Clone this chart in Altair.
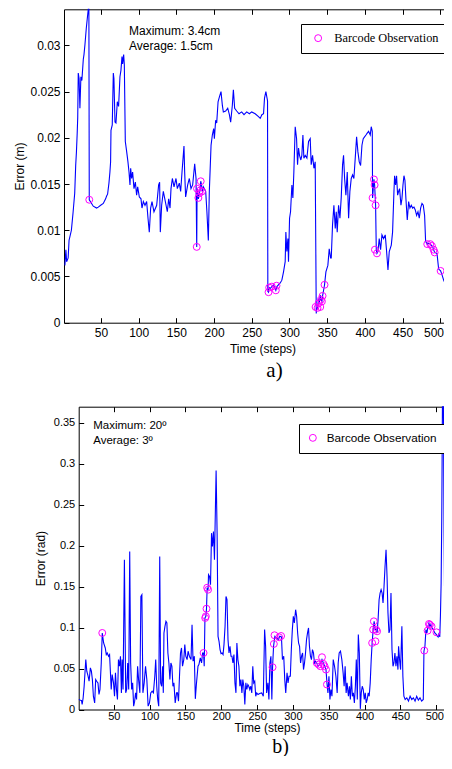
import altair as alt
import pandas as pd

SANS = "Liberation Sans"
SERIF = "Liberation Serif"
W, H = 436, 748

# ---------------- data: panel a (position error, m) ----------------
a_time = [
    2.2, 3.5, 4.5, 5.5, 6.5, 7.7, 10.8, 13.0, 15.2, 16.5,
    17.5, 18.5, 19.2, 19.9, 21.0, 22.1, 23.4, 24.7, 26.6, 27.5,
    28.8, 30.5, 32.0, 33.2, 34.0, 34.5, 37.6, 39.8, 44.2, 46.5,
    49.6, 53.1, 56.2, 57.5, 58.8, 60.6, 61.9, 62.8, 63.3, 65.0,
    66.4, 67.2, 68.6, 69.9, 71.7, 73.4, 75.2, 76.5, 77.9, 78.7,
    80.1, 81.0, 82.3, 84.1, 85.8, 87.2, 88.5, 89.4, 90.7, 92.0,
    93.8, 95.6, 97.3, 98.7, 100.9, 103.1, 104.4, 106.2, 108.4, 110.6,
    112.4, 114.1, 115.9, 117.7, 120.3, 123.9, 126.5, 127.8, 128.7, 130.5,
    132.7, 135.4, 138.0, 139.8, 141.6, 142.9, 144.7, 146.9, 149.5, 151.3,
    153.9, 155.7, 157.5, 160.1, 161.0, 162.3, 165.0, 167.2, 169.4, 171.6,
    174.3, 176.1, 177.0, 177.5, 178.5, 179.2, 180.5, 181.4, 182.3, 183.2,
    184.5, 185.8, 188.9, 190.5, 192.4, 193.7, 196.0, 197.7, 199.5, 200.4,
    202.1, 203.5, 205.3, 207.0, 209.2, 211.0, 212.3, 215.4, 218.1, 220.3,
    222.0, 224.2, 225.6, 227.3, 230.0, 233.1, 236.6, 239.7, 243.3, 246.8,
    249.9, 254.5, 258.9, 261.2, 263.4, 265.6, 266.9, 268.7, 270.0, 270.9,
    271.3, 272.2, 273.1, 274.4, 276.6, 278.8, 281.9, 283.3, 287.7, 289.9,
    292.1, 294.3, 295.2, 296.5, 297.9, 298.7, 300.1, 301.4, 303.2, 304.5,
    305.8, 307.6, 309.4, 310.7, 312.0, 313.3, 315.1, 316.4, 317.8, 319.1,
    320.9, 323.1, 325.3, 327.5, 328.8, 330.6, 332.4, 334.1, 335.5, 336.0,
    337.2, 338.6, 339.5, 340.8, 341.7, 343.0, 343.9, 345.0, 346.5, 348.3,
    350.9, 352.7, 354.5, 355.4, 357.1, 358.9, 360.7, 362.0, 363.3, 365.1,
    366.9, 368.6, 370.4, 371.7, 373.1, 374.8, 376.6, 378.4, 380.1, 381.9,
    383.7, 385.4, 387.2, 389.0, 390.7, 392.5, 394.3, 396.1, 397.8, 399.6,
    401.4, 403.1, 404.9, 407.1, 408.4, 409.8, 410.2, 412.0, 412.9, 414.2,
    415.1, 416.0, 417.3, 419.0, 420.8, 422.6, 424.8, 427.0, 428.8, 430.6,
    432.3, 435.0, 436.7, 438.5, 439.4, 440.7, 442.0, 443.4, 444.7, 446.0,
    447.8, 449.1, 450.5, 451.8, 453.1, 454.4, 456.2, 458.0, 459.7, 461.5,
    463.3, 465.1, 466.8, 468.6, 470.4, 472.1, 473.9, 475.7, 477.4, 479.2,
    480.5, 482.7, 484.5, 486.7, 488.9, 490.0, 491.1, 492.5, 495.6, 497.8,
    500.4, 502.2, 504.4, 506.6, 508.8, 511.0, 513.3, 515.5,
]
a_err = [
    0.0062, 0.0079, 0.0066, 0.0068, 0.0070, 0.0089, 0.0100, 0.0119, 0.0140, 0.0170,
    0.0185, 0.0205, 0.0222, 0.0270, 0.0264, 0.0232, 0.0266, 0.0262, 0.0285, 0.0290,
    0.0301, 0.0318, 0.0330, 0.0340, 0.0345, 0.0133, 0.0129, 0.0126, 0.0124, 0.0125,
    0.0127, 0.0129, 0.0134, 0.0137, 0.0139, 0.0151, 0.0163, 0.0174, 0.0208, 0.0214,
    0.0270, 0.0264, 0.0217, 0.0216, 0.0239, 0.0234, 0.0266, 0.0273, 0.0288, 0.0280,
    0.0290, 0.0279, 0.0196, 0.0185, 0.0174, 0.0163, 0.0149, 0.0167, 0.0156, 0.0163,
    0.0145, 0.0152, 0.0138, 0.0147, 0.0136, 0.0134, 0.0124, 0.0131, 0.0127, 0.0131,
    0.0113, 0.0098, 0.0124, 0.0131, 0.0120, 0.0127, 0.0149, 0.0152, 0.0098, 0.0127,
    0.0142, 0.0131, 0.0120, 0.0134, 0.0124, 0.0145, 0.0156, 0.0147, 0.0156, 0.0145,
    0.0151, 0.0142, 0.0163, 0.0191, 0.0163, 0.0136, 0.0149, 0.0156, 0.0145, 0.0149,
    0.0172, 0.0156, 0.0082, 0.0145, 0.0138, 0.0134, 0.0140, 0.0143, 0.0153, 0.0150,
    0.0142, 0.0147, 0.0142, 0.0120, 0.0089, 0.0142, 0.0192, 0.0203, 0.0210, 0.0199,
    0.0219, 0.0216, 0.0239, 0.0244, 0.0250, 0.0235, 0.0228, 0.0229, 0.0232, 0.0225,
    0.0217, 0.0235, 0.0252, 0.0232, 0.0229, 0.0226, 0.0228, 0.0225, 0.0228, 0.0226,
    0.0228, 0.0226, 0.0223, 0.0221, 0.0225, 0.0226, 0.0243, 0.0250, 0.0244, 0.0240,
    0.0034, 0.0033, 0.0038, 0.0037, 0.0039, 0.0041, 0.0035, 0.0039, 0.0043, 0.0046,
    0.0055, 0.0066, 0.0098, 0.0077, 0.0091, 0.0066, 0.0113, 0.0120, 0.0149, 0.0135,
    0.0163, 0.0212, 0.0199, 0.0171, 0.0189, 0.0181, 0.0176, 0.0181, 0.0203, 0.0178,
    0.0181, 0.0178, 0.0196, 0.0199, 0.0171, 0.0181, 0.0167, 0.0174, 0.0010, 0.0017,
    0.0016, 0.0026, 0.0021, 0.0030, 0.0025, 0.0023, 0.0029, 0.0034, 0.0041, 0.0055,
    0.0062, 0.0080, 0.0070, 0.0070, 0.0106, 0.0127, 0.0102, 0.0120, 0.0098, 0.0127,
    0.0113, 0.0135, 0.0171, 0.0181, 0.0156, 0.0138, 0.0163, 0.0113, 0.0142, 0.0156,
    0.0160, 0.0156, 0.0178, 0.0201, 0.0185, 0.0174, 0.0170, 0.0192, 0.0199, 0.0201,
    0.0203, 0.0205, 0.0207, 0.0203, 0.0212, 0.0207, 0.0135, 0.0155, 0.0149, 0.0127,
    0.0079, 0.0075, 0.0077, 0.0091, 0.0079, 0.0095, 0.0091, 0.0095, 0.0077, 0.0057,
    0.0077, 0.0084, 0.0098, 0.0141, 0.0159, 0.0149, 0.0159, 0.0138, 0.0142, 0.0145,
    0.0127, 0.0134, 0.0149, 0.0159, 0.0154, 0.0134, 0.0111, 0.0131, 0.0124, 0.0127,
    0.0124, 0.0125, 0.0122, 0.0116, 0.0120, 0.0113, 0.0124, 0.0129, 0.0127, 0.0116,
    0.0088, 0.0085, 0.0086, 0.0085, 0.0083, 0.0082, 0.0079, 0.0076, 0.0075, 0.0058,
    0.0056, 0.0052, 0.0046, 0.0042, 0.0039, 0.0046, 0.0048, 0.0043,
]
a_obs_time = [34.5, 177.0, 177.4, 179.2, 180.5, 181.4, 182.3, 184.0,
              272.2, 273.1, 276.6, 281.9, 282.8,
              334.6, 337.2, 338.6, 340.8, 341.7, 343.0, 343.9, 346.5,
              410.2, 412.0, 412.9, 414.2, 413.3, 416.0,
              482.7, 486.7, 488.9, 491.1, 492.5, 500.4]
a_obs_err = [0.0133, 0.0082, 0.0145, 0.0135, 0.0140, 0.0143, 0.0153, 0.0142,
             0.0033, 0.0038, 0.0039, 0.0035, 0.0040,
             0.0017, 0.0016, 0.0021, 0.0017, 0.0025, 0.0023, 0.0029, 0.0041,
             0.0135, 0.0155, 0.0149, 0.0127, 0.0079, 0.0075,
             0.0085, 0.0085, 0.0083, 0.0079, 0.0076, 0.0056]

# ---------------- data: panel b (angular error, rad) ----------------
b_time = [
    1.2, 3.5, 4.9, 5.8, 7.2, 8.6, 10.9, 12.3, 14.1, 15.5,
    17.3, 18.7, 20.1, 21.5, 23.3, 24.7, 26.1, 27.9, 29.3, 30.7,
    32.5, 33.9, 35.8, 38.1, 39.5, 40.8, 42.7, 44.1, 46.4, 47.7,
    49.6, 51.0, 52.3, 53.7, 55.1, 56.5, 57.9, 59.3, 60.6, 61.6,
    62.9, 64.8, 66.6, 68.0, 69.4, 70.8, 72.2, 73.5, 74.9, 76.3,
    77.7, 79.1, 80.4, 81.8, 83.2, 84.6, 86.4, 87.8, 89.2, 90.6,
    92.4, 94.3, 96.1, 97.9, 99.8, 101.6, 103.5, 105.3, 107.2, 108.5,
    109.9, 111.3, 112.7, 114.1, 115.4, 116.8, 118.2, 119.1, 120.0, 121.4,
    122.8, 124.1, 125.5, 126.9, 128.3, 129.7, 131.1, 132.5, 133.9, 135.7,
    137.6, 138.9, 140.3, 141.7, 143.1, 144.5, 145.9, 147.7, 149.1, 150.5,
    152.3, 153.7, 155.5, 157.8, 159.2, 160.6, 162.4, 163.8, 165.2, 167.5,
    168.8, 170.7, 172.5, 173.9, 175.3, 176.2, 177.2, 178.5, 179.4, 180.3,
    181.6, 182.2, 183.6, 185.0, 186.4, 187.7, 189.1, 190.5, 192.8, 194.2,
    195.5, 196.9, 198.3, 199.7, 201.1, 202.5, 203.8, 205.3, 206.6, 208.0,
    209.4, 210.8, 212.2, 213.6, 214.9, 216.3, 217.7, 219.1, 220.5, 221.8,
    223.2, 224.6, 226.0, 227.4, 228.8, 230.1, 231.5, 232.9, 234.3, 235.7,
    237.1, 238.4, 239.8, 241.2, 242.6, 244.0, 245.3, 246.7, 248.1, 249.5,
    251.3, 253.6, 256.4, 258.7, 260.5, 261.9, 263.3, 265.1, 266.5, 267.9,
    269.3, 270.6, 271.6, 273.0, 274.8, 277.1, 279.4, 281.7, 284.0, 285.4,
    287.2, 288.6, 290.0, 291.8, 293.2, 294.6, 296.4, 297.8, 299.2, 300.6,
    302.0, 303.8, 305.2, 306.6, 307.9, 309.3, 310.7, 312.1, 313.5, 314.8,
    316.2, 317.6, 319.0, 320.4, 321.8, 323.1, 324.5, 325.9, 327.3, 328.7,
    330.1, 331.4, 333.3, 335.1, 337.0, 338.8, 340.6, 342.5, 344.3, 346.2,
    347.5, 348.9, 350.3, 351.7, 353.1, 354.5, 356.3, 358.1, 360.0, 361.8,
    363.2, 364.6, 366.4, 368.3, 370.1, 371.5, 372.9, 374.3, 375.6, 377.5,
    378.9, 380.2, 381.6, 383.0, 384.4, 385.8, 387.2, 388.5, 389.9, 391.3,
    392.7, 394.1, 395.4, 396.8, 398.2, 399.6, 401.0, 402.3, 403.7, 405.1,
    406.5, 407.9, 409.3, 410.6, 412.0, 413.4, 414.8, 416.2, 417.5, 418.9,
    420.3, 421.7, 423.1, 424.5, 425.8, 427.2, 428.6, 430.0, 431.4, 432.7,
    434.1, 435.5, 436.9, 438.3, 439.7, 441.0, 442.4, 443.8, 445.2, 446.6,
    447.5, 448.9, 450.3, 452.1, 453.5, 454.9, 456.7, 459.0, 461.3, 463.6,
    465.9, 468.2, 470.5, 472.8, 475.1, 477.4, 479.7, 482.0, 482.9, 484.3,
    485.7, 487.1, 488.5, 489.9, 491.2, 492.6, 494.0, 495.8, 498.1, 500.4,
    502.7, 504.1, 505.0, 505.9, 506.9, 507.8, 508.7, 510.1, 511.0, 512.4,
    513.8, 515.2, 516.6,
]
b_err = [
    0.0122, 0.0114, 0.0110, 0.0061, 0.0142, 0.0284, 0.0609, 0.0467, 0.0406, 0.0345,
    0.0508, 0.0467, 0.0365, 0.0162, 0.0081, 0.0365, 0.0345, 0.0325, 0.0183, 0.0244,
    0.0568, 0.0934, 0.0812, 0.0751, 0.0670, 0.0690, 0.0650, 0.0670, 0.0244, 0.0426,
    0.0325, 0.0162, 0.0447, 0.0244, 0.0122, 0.0609, 0.0528, 0.0650, 0.0203, 0.0609,
    0.0244, 0.1827, 0.0203, 0.0244, 0.0568, 0.0244, 0.1929, 0.0568, 0.0244, 0.0325,
    0.0041, 0.0102, 0.0203, 0.0122, 0.0528, 0.0365, 0.0203, 0.1380, 0.1401, 0.0203,
    0.0325, 0.0528, 0.0365, 0.0041, 0.0081, 0.0203, 0.0223, 0.0203, 0.0406, 0.0609,
    0.0284, 0.0122, 0.0041, 0.1868, 0.0325, 0.0284, 0.0528, 0.0203, 0.0934, 0.1015,
    0.1076, 0.1056, 0.0690, 0.0568, 0.0365, 0.0568, 0.0528, 0.0284, 0.0325, 0.0081,
    0.0203, 0.0203, 0.0102, 0.0406, 0.0690, 0.0751, 0.0528, 0.0609, 0.0792, 0.0650,
    0.0609, 0.0711, 0.0650, 0.0609, 0.1035, 0.0589, 0.0650, 0.0130, 0.0300, 0.0528,
    0.0548, 0.0629, 0.0568, 0.0690, 0.0690, 0.0528, 0.1117, 0.1137, 0.1230, 0.1486,
    0.1462, 0.1645, 0.1624, 0.1523, 0.2152, 0.1990, 0.2172, 0.1827, 0.2916, 0.2152,
    0.0893, 0.0832, 0.0731, 0.0682, 0.0690, 0.0670, 0.0792, 0.1015, 0.1380, 0.1340,
    0.0853, 0.0690, 0.0772, 0.0650, 0.0650, 0.0568, 0.0670, 0.0325, 0.0203, 0.0812,
    0.0609, 0.0528, 0.0284, 0.0365, 0.0203, 0.0365, 0.0284, 0.0061, 0.0325, 0.0244,
    0.0305, 0.0284, 0.0244, 0.0284, 0.0203, 0.0528, 0.0325, 0.0345, 0.0162, 0.0203,
    0.0183, 0.0195, 0.0203, 0.0162, 0.0975, 0.0772, 0.0203, 0.0325, 0.0122, 0.0568,
    0.0650, 0.0122, 0.0516, 0.0772, 0.0893, 0.0873, 0.0853, 0.0893, 0.0885, 0.0609,
    0.0650, 0.0365, 0.0203, 0.0447, 0.0325, 0.0406, 0.0406, 0.0731, 0.0975, 0.1137,
    0.1056, 0.1218, 0.1137, 0.0934, 0.0812, 0.0772, 0.0568, 0.0650, 0.0690, 0.0487,
    0.0568, 0.0690, 0.0853, 0.0934, 0.0995, 0.0772, 0.0650, 0.0609, 0.0731, 0.0690,
    0.0568, 0.0589, 0.0568, 0.0528, 0.0548, 0.0568, 0.0609, 0.0568, 0.0528, 0.0487,
    0.0325, 0.0203, 0.0406, 0.0122, 0.0244, 0.0162, 0.0609, 0.0528, 0.0406, 0.0203,
    0.0568, 0.0690, 0.0711, 0.0609, 0.0447, 0.0284, 0.0528, 0.0203, 0.0325, 0.0162,
    0.0284, 0.0122, 0.0406, 0.0162, 0.0203, 0.0081, 0.0284, 0.0609, 0.0122, 0.0914,
    0.0690, 0.0008, 0.0203, 0.0284, 0.0244, 0.0122, 0.0203, 0.0081, 0.0122, 0.0203,
    0.0162, 0.0325, 0.0609, 0.0812, 0.0975, 0.1076, 0.0975, 0.0975, 0.0934, 0.1096,
    0.1340, 0.1421, 0.1462, 0.1421, 0.1299, 0.1502, 0.1746, 0.1949, 0.1624, 0.1178,
    0.0934, 0.0975, 0.1421, 0.0731, 0.0528, 0.0568, 0.0690, 0.0528, 0.0650, 0.0487,
    0.0772, 0.0609, 0.0487, 0.1015, 0.0406, 0.0162, 0.0122, 0.0142, 0.0102, 0.0162,
    0.0122, 0.0142, 0.0102, 0.0162, 0.0114, 0.0142, 0.0102, 0.0122, 0.0711, 0.0772,
    0.0975, 0.0934, 0.1015, 0.1056, 0.1015, 0.1035, 0.0995, 0.0975, 0.0934, 0.0914,
    0.0885, 0.0934, 0.0885, 0.1137, 0.1543, 0.2355, 0.4000, 0.4000, 0.2152, 0.0731,
    0.0284, 0.0406, 0.0528,
]
b_obs_time = [33.9, 175.3, 177.6, 178.5, 179.4, 180.3, 181.6,
              271.6, 273.4, 274.3, 280.8, 283.5,
              333.3, 336.0, 338.3, 340.6, 342.5, 344.3, 346.2, 347.5,
              410.6, 412.0, 413.0, 415.2, 416.1, 417.5,
              483.4, 488.0, 489.9, 491.2, 493.5, 500.4]
b_obs_err = [0.0934, 0.0690, 0.1117, 0.1137, 0.1230, 0.1486, 0.1462,
             0.0516, 0.0800, 0.0906, 0.0881, 0.0897,
             0.0568, 0.0548, 0.0528, 0.0638, 0.0556, 0.0528, 0.0487, 0.0305,
             0.0812, 0.0975, 0.1076, 0.0832, 0.0975, 0.0954,
             0.0719, 0.0962, 0.1044, 0.1035, 0.1015, 0.0942]

x_ticks = [50, 100, 150, 200, 250, 300, 350, 400, 450, 500]
a_y_ticks = [0, 0.005, 0.01, 0.015, 0.02, 0.025, 0.03]
b_y_ticks = [0, 0.05, 0.1, 0.15, 0.2, 0.25, 0.3, 0.35]
a_notes = ["Maximum: 3.4cm", "Average: 1.5cm"]
b_notes = ["Maximum: 20º", "Average: 3º"]
a_note_pos = [87.2, [0.03155, 0.02998]]
b_note_pos = [21.2, [0.3460, 0.3276]]
legend_label = "Barcode Observation"

# ---------------- layout of the two panels (pixels, chart coordinates) ----------------
panel_a = dict(xr=[56, 436], xdom=[1, 504.9], yr=[314.7, 1.3], ydom=[0, 0.0339],
               yticks=a_y_ticks, ytitle="Error (m)", ytitle_x=11.2,
               ylab_size=12, xlab_size=12, xlab_pad=5, last_shift=3.2,
               xtitle_x=254.5, xtitle_y=25.3, caption="a)", cap_x=266, cap_y=53.3,
               cap_size=21, note_size=12, legend_xy=(293, 16), legend_font=SERIF,
               legend_size=12.3, legend_symoff=3, legend_laboff=10)
panel_b = dict(xr=[70.7, 436], xdom=[1, 510.9], yr=[701.5, 398.7], ydom=[0, 0.3695],
               yticks=b_y_ticks, ytitle="Error (rad)", ytitle_x=32.5,
               ylab_size=11, xlab_size=11, xlab_pad=1, last_shift=7.3,
               xtitle_x=259, xtitle_y=17.5, caption="b)", cap_x=272, cap_y=42.5,
               cap_size=20, note_size=11.5, legend_xy=(291, 416), legend_font=SANS,
               legend_size=11.7, legend_symoff=0, legend_laboff=8)


def build(times, errs, obs_t, obs_e, notes, note_pos, c):
    line_df = pd.DataFrame({"t": times, "e": errs})
    obs_df = pd.DataFrame({"t": obs_t, "e": obs_e, "label": legend_label})
    note_df = pd.DataFrame({"x": note_pos[0], "y": note_pos[1], "text": notes})
    x0, x1 = c["xr"]
    yb, yt = c["yr"]
    xs = alt.Scale(domain=c["xdom"], range=c["xr"], nice=False, zero=False)
    ys = alt.Scale(domain=c["ydom"], range=c["yr"], nice=False, zero=False, clamp=True)

    last = "datum.value == 500"
    main_x = alt.Axis(orient="bottom", offset=yb - H, values=x_ticks, format="d",
                      domain=True, domainColor="black", domainWidth=1,
                      ticks=False, tickSize=0, grid=False, labelFlush=False,
                      labelOverlap=False, labelFont=SANS, labelFontSize=c["xlab_size"],
                      labelColor="black", labelPadding=c["xlab_pad"],
                      labelAlign={"condition": {"test": last, "value": "right"},
                                  "value": "center"},
                      labelOffset={"condition": {"test": last, "value": c["last_shift"]},
                                   "value": 0},
                      title="Time (steps)", titleFont=SANS, titleFontSize=12,
                      titleFontWeight="normal", titleColor="black",
                      titleX=c["xtitle_x"], titleY=c["xtitle_y"],
                      titleAlign="center", titleBaseline="middle")
    main_y = alt.Axis(orient="left", offset=-x0, values=c["yticks"], format="~g",
                      domain=True, domainColor="black", domainWidth=1,
                      ticks=False, tickSize=0, grid=False, labelFlush=False,
                      labelOverlap=False, labelFont=SANS, labelFontSize=c["ylab_size"],
                      labelColor="black", labelPadding=4,
                      title=c["ytitle"], titleFont=SANS, titleFontSize=12,
                      titleFontWeight="normal", titleColor="black", titleAngle=270,
                      titleX=c["ytitle_x"] - x0, titleY=(yb + yt) / 2,
                      titleAlign="center", titleBaseline="middle")
    tick_x = alt.Axis(orient="bottom", offset=(yb - 5) - H, values=x_ticks,
                      domain=False, ticks=True, tickSize=5, tickColor="black",
                      tickWidth=1, labels=False, grid=False, title=None)
    tick_y = alt.Axis(orient="left", offset=-(x0 + 5), values=c["yticks"],
                      domain=False, ticks=True, tickSize=5, tickColor="black",
                      tickWidth=1, labels=False, grid=False, title=None)
    top_frame = alt.Axis(orient="top", offset=-yt, domain=True, domainColor="black",
                         domainWidth=1, ticks=False, labels=False, grid=False, title=None)
    top_ticks = alt.Axis(orient="top", offset=-(yt + 5), values=x_ticks, domain=False,
                         ticks=True, tickSize=5, tickColor="black", tickWidth=1,
                         labels=False, grid=False, title=None)
    cap_axis = alt.Axis(orient="bottom", offset=yb - H, domain=False, ticks=False,
                        labels=False, grid=False, title=c["caption"], titleFont=SERIF,
                        titleFontSize=c["cap_size"], titleFontWeight="normal",
                        titleColor="black", titleX=c["cap_x"], titleY=c["cap_y"],
                        titleAlign="center", titleBaseline="alphabetic")

    line = alt.Chart(line_df).mark_line(color="#0000ff", strokeWidth=1.1).encode(
        x=alt.X("t:Q", scale=xs, axis=main_x),
        y=alt.Y("e:Q", scale=ys, axis=main_y),
    )
    obs = alt.Chart(obs_df).mark_point(shape="circle", filled=False, size=48,
                                       strokeWidth=1, opacity=1).encode(
        x=alt.X("t:Q", scale=xs, axis=tick_x),
        y=alt.Y("e:Q", scale=ys, axis=tick_y),
        color=alt.Color("label:N",
                        scale=alt.Scale(domain=[legend_label], range=["#ff00ff"]),
                        legend=alt.Legend(title=None, orient="none",
                                          legendX=c["legend_xy"][0],
                                          legendY=c["legend_xy"][1],
                                          strokeColor="black", fillColor="white",
                                          padding=8, cornerRadius=0,
                                          symbolType="circle", symbolSize=48,
                                          symbolStrokeWidth=1,
                                          symbolOffset=c["legend_symoff"],
                                          labelFont=c["legend_font"],
                                          labelFontSize=c["legend_size"],
                                          labelColor="black",
                                          labelOffset=c["legend_laboff"])),
    )
    notes_layer = alt.Chart(note_df).mark_text(align="left", baseline="middle",
                                               font=SANS, fontSize=c["note_size"],
                                               color="black").encode(
        x=alt.X("x:Q", scale=xs, axis=top_frame),
        y=alt.Y("y:Q", scale=ys, axis=None),
        text="text:N",
    )
    top_layer = alt.Chart(line_df).mark_line(opacity=0).encode(
        x=alt.X("t:Q", scale=xs, axis=top_ticks),
        y=alt.Y("e:Q", scale=ys, axis=None),
    )
    cap_layer = alt.Chart(line_df).mark_line(opacity=0).encode(
        x=alt.X("t:Q", scale=xs, axis=cap_axis),
        y=alt.Y("e:Q", scale=ys, axis=None),
    )
    return [line, obs, notes_layer, top_layer, cap_layer]


layers = (build(a_time, a_err, a_obs_time, a_obs_err, a_notes, a_note_pos, panel_a)
          + build(b_time, b_err, b_obs_time, b_obs_err, b_notes, b_note_pos, panel_b))

chart = (
    alt.layer(*layers)
    .resolve_scale(x="independent", y="independent", color="independent")
    .resolve_axis(x="independent", y="independent")
    .resolve_legend(color="independent")
    .properties(width=W, height=H, autosize=alt.AutoSizeParams(type="none"),
                padding={"left": 0, "top": 0, "right": 0, "bottom": 0},
                background="white")
    .configure_view(stroke=None)
)

chart.save("out.html", embed_options={"renderer": "svg", "actions": False})
